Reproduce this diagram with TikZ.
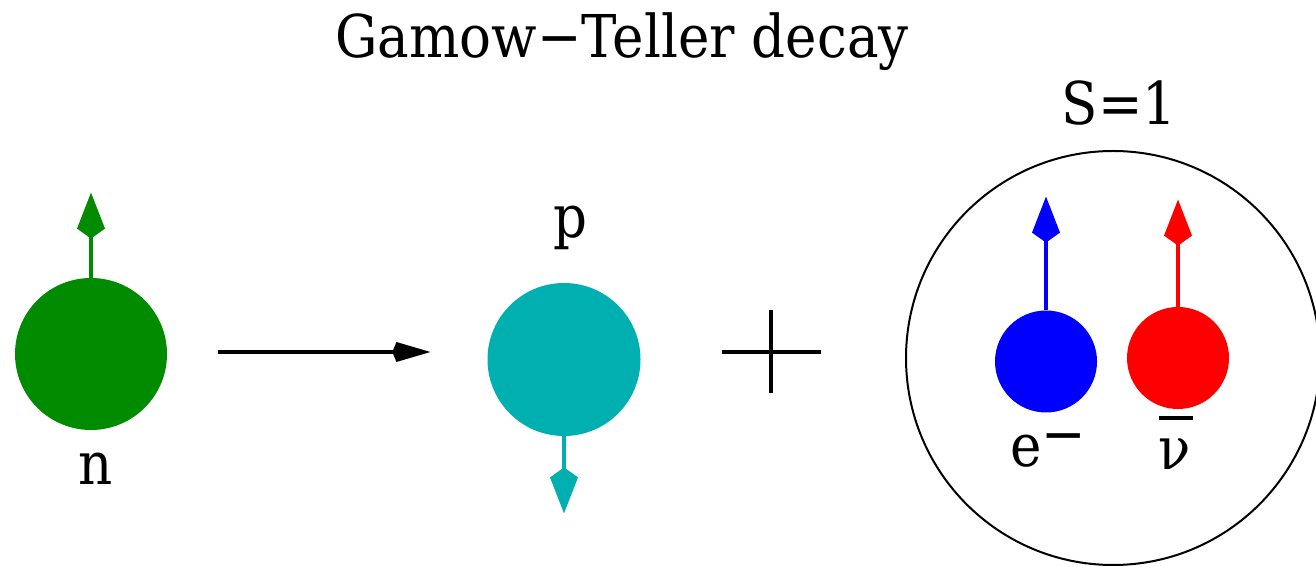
\documentclass[tikz,border=0pt]{standalone}
\usepackage{fontspec}
\setmainfont{DejaVu Serif}[FakeStretch=0.9]
\usetikzlibrary{arrows.meta}
\definecolor{neutrongreen}{RGB}{0,139,0}
\definecolor{protoncyan}{RGB}{0,176,176}
\newcommand{\antinu}{\ooalign{\hfil\rule[0.85em]{0.59em}{0.068em}\hfil\cr ν}}

\begin{document}
\begin{tikzpicture}[x=0.5pt,y=0.5pt,
  >={Kite[length=23pt,width=14pt,inset=5pt]},
  font=\fontsize{29.5}{36}\selectfont,
  ball/.style={circle,inner sep=0pt,fill=#1},
  spin/.style={draw=#1,line width=2pt,->},
  react/.style={line width=2pt,-{Kite[length=19pt,width=10pt,inset=2pt]}},
  txt/.style={anchor=base,inner sep=0pt}]
\useasboundingbox (0,0) rectangle (1316,567);
\node[txt] (title) at (622,509) {Gamow−Teller decay};
% neutron
\node[ball=neutrongreen,minimum size=76pt] (n) at (91,213) {};
\draw[spin=neutrongreen] (n.north) -- ++(0,85);
\node[txt] (nlabel) at (96,82) {n};
% proton
\node[ball=protoncyan,minimum size=76.5pt] (p) at (564,207.5) {};
\draw[spin=protoncyan] (p.south) -- ++(0,-77);
\node[txt] (plabel) at (570,329) {p};
\draw[react] ([xshift=25.5pt,yshift=1pt]n.east) -- ++(212,0);
% plus
\draw[line width=2pt] (722,215) -- (821,215) (771,257) -- (771,174);
% lepton pair
\node[circle,draw,line width=1pt,minimum size=207pt,inner sep=0pt] (pair) at (1113,209) {};
\node[txt] (Slabel) at (1119,442) {S=1};
\node[ball=blue,minimum size=51pt] (e) at (1046,205.5) {};
\draw[spin=blue] (e.north) -- ++(0,113.5);
\node[txt] (elabel) at (1048,100) {e\raisebox{0.22em}{−}};
\node[ball=red,minimum size=51pt] (nu) at (1178,209) {};
\draw[spin=red] (nu.north) -- ++(0,107);
\node[txt] (nulabel) at (1176,97) {\antinu};
\end{tikzpicture}
\end{document}
